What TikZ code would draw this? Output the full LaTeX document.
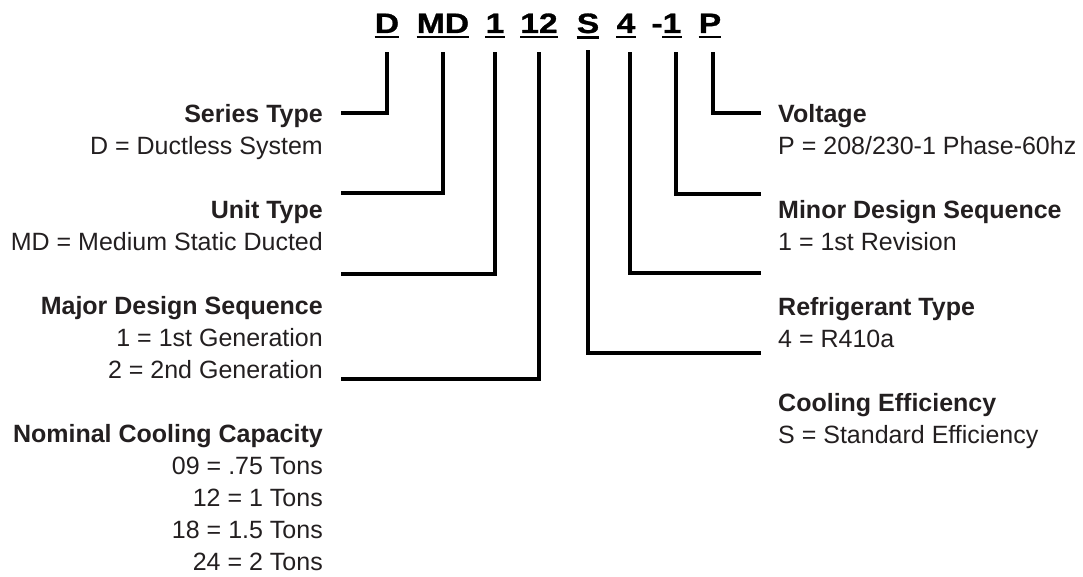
\documentclass[tikz,border=0pt]{standalone}
\usepackage{fontspec}
\setmainfont{Liberation Sans}
\newfontfamily\codefont[FakeStretch=1.2,FakeBold=1]{Liberation Sans}
\definecolor{ink}{HTML}{231F20}

\begin{document}
\begin{tikzpicture}[x=1pt,y=-1pt,
   code/.style={font=\codefont\bfseries\fontsize{28}{28}\selectfont,inner sep=0pt,anchor=base},
   lbl/.style={font=\fontsize{25}{32}\selectfont,text=ink,inner sep=0pt},
   lleft/.style={lbl,align=right,anchor=base east},
   lright/.style={lbl,align=left,anchor=base west},
   lead/.style={line width=3.5pt},
   uline/.style={line width=2.5pt}]
   \useasboundingbox (0,0) rectangle (1083,577);
   \node[code] (cD) at (387,33) {D};
   \node[code] (cMD) at (443,33) {MD};
   \node[code] (c1) at (495,33) {1};
   \node[code] (c12) at (539,33) {12};
   \node[code] (cS) at (588,33) {S};
   \node[code] (c4) at (626,33) {4};
   \node[code] (cm1) at (672,33) {\llap{-}1};
   \node[code] (cP) at (710,33) {P};
   \foreach \c in {cD,cMD,c1,c12,cS,c4,cm1,cP}
      \draw[uline] ([yshift=-4pt]\c.south west) -- ([yshift=-4pt]\c.south east);

   \node[lleft] (series) at (323,155) {\textbf{Series Type}\\D = Ductless System};
   \node[lleft] (unit) at (323,251) {\textbf{Unit Type}\\MD = Medium Static Ducted};
   \node[lleft] (major) at (323,378) {\textbf{Major Design Sequence}\\1 = 1st Generation\\2 = 2nd Generation};
   \node[lleft] (nominal) at (323,570) {\textbf{Nominal Cooling Capacity}\\09 = .75 Tons\\12 = 1 Tons\\18 = 1.5 Tons\\24 = 2 Tons};
   \node[lright] (voltage) at (778,155) {\textbf{Voltage}\\P = 208/230-1 Phase-60hz};
   \node[lright] (minor) at (778,251) {\textbf{Minor Design Sequence}\\1 = 1st Revision};
   \node[lright] (refrig) at (778,347) {\textbf{Refrigerant Type}\\4 = R410a};
   \node[lright] (cooling) at (778,443) {\textbf{Cooling Efficiency}\\S = Standard Efficiency};

   \coordinate (eD) at (341,113);
   \coordinate (eMD) at (341,193);
   \coordinate (e1) at (341,274);
   \coordinate (e12) at (341,379);
   \coordinate (eP) at (761,113);
   \coordinate (em1) at (761,194);
   \coordinate (e4) at (761,273);
   \coordinate (eS) at (761,353);
   \draw[lead] (cD.south) ++(0,19) |- (eD);
   \draw[lead] (cMD.south) ++(0,19) |- (eMD);
   \draw[lead] (c1.south) ++(0,19) |- (e1);
   \draw[lead] (c12.south) ++(0,19) |- (e12);
   \draw[lead] (cS.south) ++(0,17) |- (eS);
   \draw[lead] ([xshift=4pt]c4.south) ++(0,19) |- (e4);
   \draw[lead] ([xshift=4pt]cm1.south) ++(0,19) |- (em1);
   \draw[lead] ([xshift=3pt]cP.south) ++(0,19) |- (eP);
 \end{tikzpicture}
\end{document}
